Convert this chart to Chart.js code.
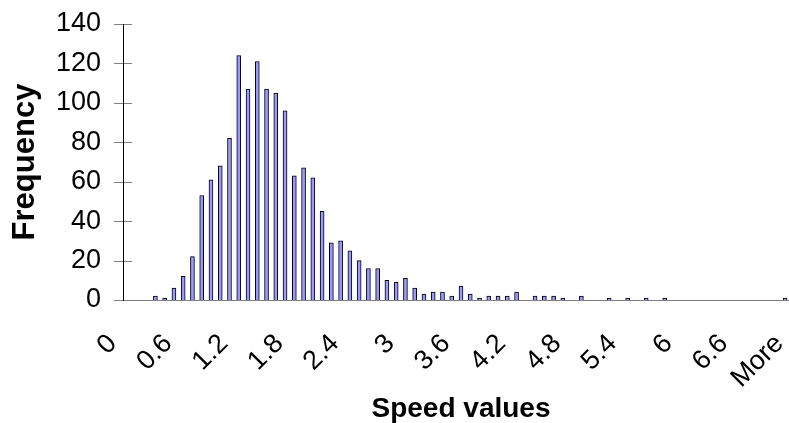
<!DOCTYPE html>
<html>
<head>
<meta charset="utf-8">
<script src="https://cdn.jsdelivr.net/npm/chart.js@4/dist/chart.umd.min.js"></script>
<style>
  html, body { margin: 0; padding: 0; background: #fff; overflow: hidden; }
  #wrap { width: 800px; height: 423px; position: relative; }
</style>
</head>
<body>
<div id="wrap"><canvas id="histChart"></canvas></div>
<script>
// Histogram bins (0.1 wide) and the overflow bin
const BINS = [
    '0', '0.1', '0.2', '0.3', '0.4', '0.5', '0.6', '0.7', '0.8', '0.9',
    '1', '1.1', '1.2', '1.3', '1.4', '1.5', '1.6', '1.7', '1.8', '1.9',
    '2', '2.1', '2.2', '2.3', '2.4', '2.5', '2.6', '2.7', '2.8', '2.9',
    '3', '3.1', '3.2', '3.3', '3.4', '3.5', '3.6', '3.7', '3.8', '3.9',
    '4', '4.1', '4.2', '4.3', '4.4', '4.5', '4.6', '4.7', '4.8', '4.9',
    '5', '5.1', '5.2', '5.3', '5.4', '5.5', '5.6', '5.7', '5.8', '5.9',
    '6', '6.1', '6.2', '6.3', '6.4', '6.5', '6.6', '6.7', '6.8', '6.9',
    '7', '7.1', 'More'
];

// Counts per bin
const FREQUENCY = [
    0, 0, 0, 2, 1, 6, 12, 22, 53, 61,
    68, 82, 124, 107, 121, 107, 105, 96, 63, 67,
    62, 45, 29, 30, 25, 20, 16, 16, 10, 9,
    11, 6, 3, 4, 4, 2, 7, 3, 1, 2,
    2, 2, 4, 0, 2, 2, 2, 1, 0, 2,
    0, 0, 1, 0, 1, 0, 1, 0, 1, 0,
    0, 0, 0, 0, 0, 0, 0, 0, 0, 0,
    0, 1, 0
];

// Only every 6th bin gets a label
const LABEL_STEP = 6;
const Y_MAX = 140;
const Y_STEP = 20;

const FONT = "'Liberation Sans', Arial, sans-serif";

// Excel style tick marks that cross the value axis
const crossTicks = {
    id: 'crossTicks',
    beforeDraw(chart) {
        const {ctx, scales: {y}} = chart;
        const axisX = y.right;
        ctx.save();
        ctx.strokeStyle = '#808080';
        ctx.lineWidth = 1;
        y.ticks.forEach((t, i) => {
            const py = Math.round(y.getPixelForTick(i)) + 0.5;
            ctx.beginPath();
            ctx.moveTo(axisX - 9, py);
            ctx.lineTo(axisX + 9, py);
            ctx.stroke();
        });
        ctx.restore();
    }
};

const ctx = document.getElementById('histChart').getContext('2d');
new Chart(ctx, {
    type: 'bar',
    data: {
        labels: BINS,
        datasets: [{
            data: FREQUENCY,
            backgroundColor: '#9999ff',
            borderColor: '#000000',
            borderWidth: 1,
            barThickness: 4
        }]
    },
    options: {
        responsive: true,
        maintainAspectRatio: false,
        animation: false,
        layout: {
            padding: { top: 24, right: 1, left: 0, bottom: 0 }
        },
        scales: {
            x: {
                grid: { display: false, drawTicks: false },
                border: { display: true, color: '#808080', width: 1 },
                ticks: {
                    autoSkip: false,
                    maxRotation: 45,
                    minRotation: 45,
                    padding: 28,
                    labelOffset: -15,
                    color: '#000',
                    font: { family: FONT, size: 27 },
                    callback: (value, index) => index % LABEL_STEP === 0 ? BINS[index] : ''
                },
                title: {
                    display: true,
                    text: 'Speed values',
                    color: '#000',
                    font: { family: FONT, size: 28, weight: 'bold', lineHeight: 1 },
                    padding: { top: 0, bottom: 0 }
                },
                afterFit: (scale) => {
                    scale.height = 123;
                    scale.paddingLeft = 0;
                    scale.paddingRight = 0;
                }
            },
            y: {
                min: 0,
                max: Y_MAX,
                grid: { display: false, drawTicks: false },
                border: { display: true, color: '#000000', width: 1 },
                ticks: {
                    stepSize: Y_STEP,
                    padding: 22,
                    color: '#000',
                    font: { family: FONT, size: 27 }
                },
                title: {
                    display: true,
                    text: 'Frequency',
                    color: '#000',
                    font: { family: FONT, size: 31, weight: 'bold', lineHeight: 1 },
                    padding: { top: 10, bottom: 0 }
                },
                afterFit: (scale) => {
                    scale.width = 123;
                    scale.paddingTop = 0;
                    scale.paddingBottom = 0;
                }
            }
        },
        plugins: {
            legend: { display: false },
            tooltip: { enabled: false }
        }
    },
    plugins: [crossTicks]
});
</script>
</body>
</html>
